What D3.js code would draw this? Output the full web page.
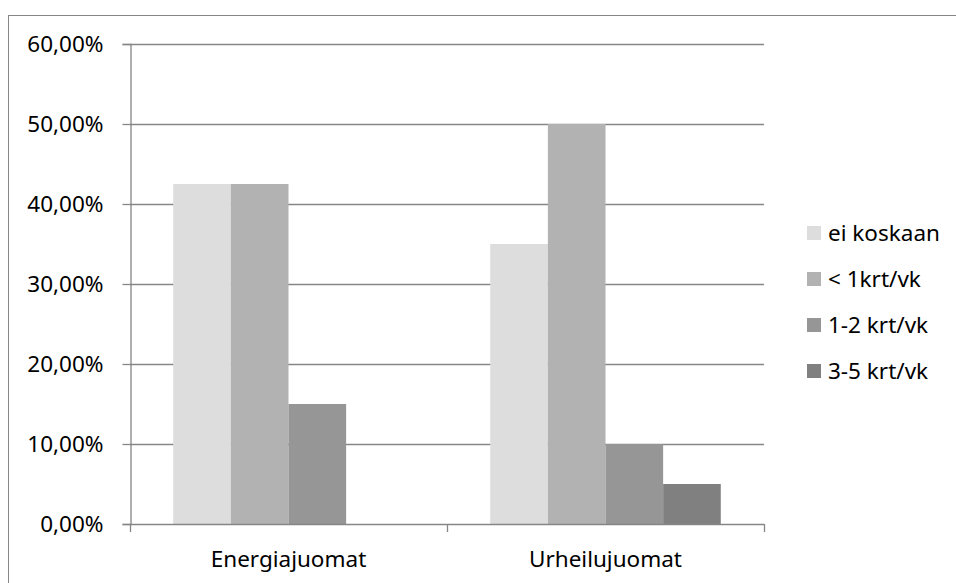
<!DOCTYPE html>
<html>
<head>
<meta charset="utf-8">
<script src="https://cdn.jsdelivr.net/npm/d3@7/dist/d3.min.js"></script>
<style>
  html, body { margin: 0; padding: 0; background: #fff; }
  svg { display: block; }
  text { font-family: "Noto Sans", "Open Sans", sans-serif; fill: #000; }
</style>
</head>
<body>
<svg id="chart" width="956" height="583"></svg>
<script>
// Drink categories and frequency groups
const categories = ["Energiajuomat", "Urheilujuomat"];
const seriesNames = ["ei koskaan", "< 1krt/vk", "1-2 krt/vk", "3-5 krt/vk"];
const seriesColors = ["#dddddd", "#b2b2b2", "#969696", "#808080"];

// Share of respondents (%) per series, one value per category
const eiKoskaan = [42.5, 35];
const alle1 = [42.5, 50];
const kerta12 = [15, 10];
const kerta35 = [0, 5];
const seriesValues = [eiKoskaan, alle1, kerta12, kerta35];

const yTicks = [0, 10, 20, 30, 40, 50, 60];

const svg = d3.select("#chart");
const W = 956, H = 583;
const plot = { left: 130, right: 764, top: 44, bottom: 524 };
const axisColor = "#868686";
const fontSize = 22.5;

// Outer chart frame
svg.append("rect")
  .attr("x", 8.5).attr("y", 15.5)
  .attr("width", W + 10).attr("height", H + 10)
  .attr("fill", "none").attr("stroke", axisColor).attr("stroke-width", 1);

const x0 = d3.scaleBand().domain(categories).range([plot.left, plot.right]).padding(0);
const inner = 1 / (4 + 1.5); // gap width 150%
const x1 = d3.scaleBand().domain(d3.range(seriesNames.length))
  .range([x0.bandwidth() * 0.75 * inner, x0.bandwidth() - x0.bandwidth() * 0.75 * inner]);

const y = d3.scaleLinear().domain([0, 60]).range([plot.bottom, plot.top]);

const fmt = v => d3.format(".2f")(v).replace(".", ",") + "%";

// Horizontal gridlines
svg.append("g").selectAll("line").data(yTicks.filter(t => t > 0)).join("line")
  .attr("x1", plot.left).attr("x2", plot.right)
  .attr("y1", d => Math.round(y(d)) + 0.5).attr("y2", d => Math.round(y(d)) + 0.5)
  .attr("stroke", axisColor).attr("stroke-width", 1.3);

// Bars
const groups = svg.append("g").selectAll("g").data(seriesValues).join("g")
  .attr("fill", (d, i) => seriesColors[i]);
groups.each(function(vals, si) {
  d3.select(this).selectAll("rect").data(vals).join("rect")
    .attr("x", (d, ci) => x0(categories[ci]) + x1(si))
    .attr("width", x1.bandwidth())
    .attr("y", d => y(d))
    .attr("height", d => y(0) - y(d));
});

// Y axis
const yAxis = d3.axisLeft(y).tickValues(yTicks).tickFormat(fmt).tickSize(8).tickPadding(19);
const gy = svg.append("g").attr("transform", `translate(${plot.left + 0.5},0)`).call(yAxis);
gy.select(".domain").attr("stroke", axisColor).attr("stroke-width", 1.3);
gy.selectAll(".tick line").attr("stroke", axisColor).attr("stroke-width", 1.3);
gy.selectAll(".tick text").attr("font-size", fontSize).attr("font-family", null);

// X axis with ticks at category boundaries
const boundaries = [plot.left, plot.left + x0.bandwidth(), plot.right];
const gx = svg.append("g");
gx.append("line").attr("x1", plot.left).attr("x2", plot.right)
  .attr("y1", plot.bottom + 0.5).attr("y2", plot.bottom + 0.5)
  .attr("stroke", axisColor).attr("stroke-width", 1.3);
gx.selectAll("line.tk").data(boundaries).join("line").attr("class", "tk")
  .attr("x1", d => d + 0.5).attr("x2", d => d + 0.5)
  .attr("y1", plot.bottom).attr("y2", plot.bottom + 8)
  .attr("stroke", axisColor).attr("stroke-width", 1.3);
gx.selectAll("text").data(categories).join("text")
  .attr("x", d => x0(d) + x0.bandwidth() / 2)
  .attr("y", 567)
  .attr("text-anchor", "middle")
  .attr("font-size", fontSize)
  .text(d => d);

// Legend
const legend = svg.append("g").selectAll("g").data(seriesNames).join("g")
  .attr("transform", (d, i) => `translate(807, ${233 + i * 46})`);
legend.append("rect").attr("x", 0).attr("y", -7).attr("width", 14).attr("height", 14)
  .attr("fill", (d, i) => seriesColors[i]);
legend.append("text").attr("x", 21).attr("y", 0).attr("dy", "0.35em")
  .attr("font-size", fontSize).text(d => d);
</script>
</body>
</html>
